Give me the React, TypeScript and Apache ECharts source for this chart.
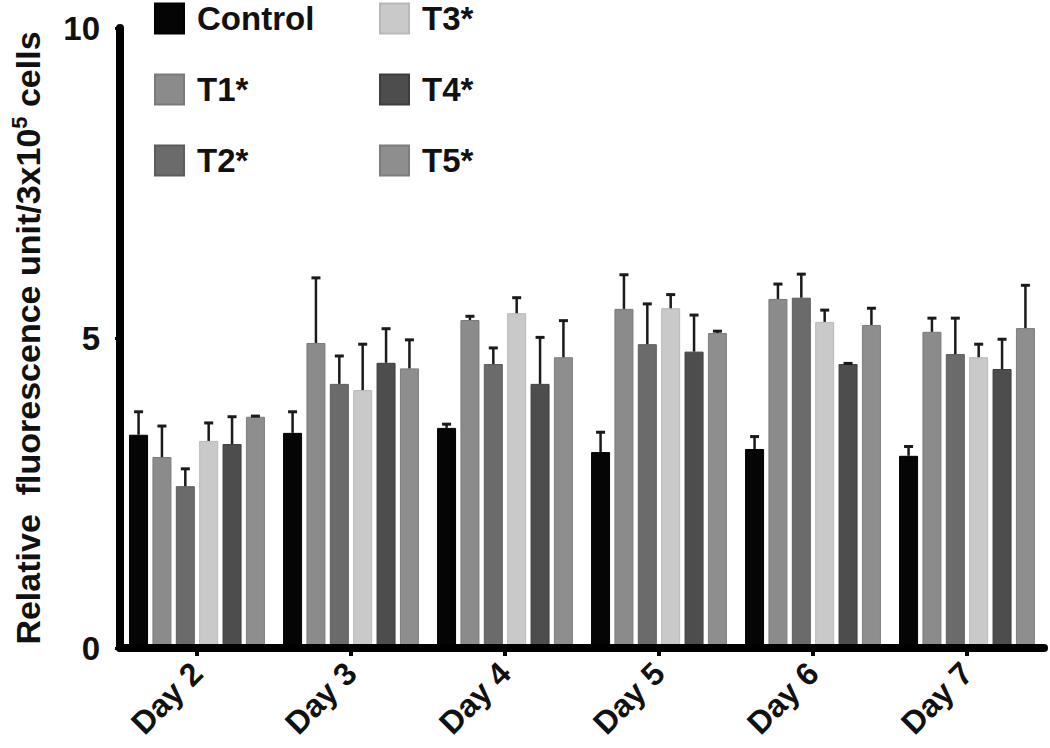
import React, { useEffect, useRef } from "react";
import * as echarts from "echarts";

const categories = ["Day 2", "Day 3", "Day 4", "Day 5", "Day 6", "Day 7"];
const seriesNames = ["Control", "T1*", "T2*", "T3*", "T4*", "T5*"];

const control = [3.44, 3.47, 3.55, 3.16, 3.21, 3.1];
const t1 = [3.08, 4.92, 5.29, 5.47, 5.63, 5.1];
const t2 = [2.61, 4.26, 4.58, 4.9, 5.65, 4.74];
const t3 = [3.34, 4.16, 5.4, 5.48, 5.26, 4.69];
const t4 = [3.29, 4.6, 4.26, 4.78, 4.58, 4.5];
const t5 = [3.73, 4.51, 4.69, 5.08, 5.21, 5.16];

const controlErr = [0.37, 0.34, 0.06, 0.32, 0.2, 0.15];
const t1Err = [0.5, 1.05, 0.06, 0.55, 0.24, 0.22];
const t2Err = [0.28, 0.45, 0.26, 0.65, 0.38, 0.58];
const t3Err = [0.29, 0.74, 0.25, 0.22, 0.19, 0.21];
const t4Err = [0.44, 0.55, 0.75, 0.59, 0.01, 0.48];
const t5Err = [0.01, 0.46, 0.59, 0.03, 0.27, 0.69];

const yTicks = [0, 5, 10];

const values = [control, t1, t2, t3, t4, t5];
const errors = [controlErr, t1Err, t2Err, t3Err, t4Err, t5Err];
const colors = ["#050505", "#8b8b8b", "#6b6b6b", "#c9c9c9", "#4d4d4d", "#8e8e8e"];
const borders = ["#000000", "#7a7a7a", "#5c5c5c", "#b8b8b8", "#3e3e3e", "#7d7d7d"];

const FONT = "'Liberation Sans', Arial, Helvetica, sans-serif";
const BAR_W = 19;
const BAR_GAP = 0.23;

export default function App() {
  const ref = useRef<HTMLDivElement>(null);

  useEffect(() => {
    if (!ref.current) return;
    const chart = echarts.init(ref.current, null, { renderer: "svg" });

    const barSeries = seriesNames.map((name, i) => ({
      name,
      type: "bar",
      data: values[i],
      barWidth: BAR_W,
      barGap: `${BAR_GAP * 100}%`,
      itemStyle: { color: colors[i], borderColor: borders[i], borderWidth: 1 },
      z: 2,
    }));

    const errData: number[][] = [];
    values.forEach((arr, s) => {
      arr.forEach((v, c) => {
        errData.push([c, v, v + errors[s][c], s]);
      });
    });

    const errorSeries = {
      type: "custom",
      name: "errors",
      data: errData,
      z: 3,
      renderItem: (params: any, api: any) => {
        const c = api.value(0);
        const v = api.value(1);
        const top = api.value(2);
        const s = api.value(3);
        const base = api.coord([c, v]);
        const hi = api.coord([c, top]);
        const pitch = BAR_W * (1 + BAR_GAP);
        const x = base[0] + (s - 2.5) * pitch;
        const capHalf = 4.5;
        return {
          type: "group",
          children: [
            {
              type: "line",
              shape: { x1: x, y1: base[1], x2: x, y2: hi[1] },
              style: { stroke: "#1a1a1a", lineWidth: 2.5 },
            },
            {
              type: "line",
              shape: { x1: x - capHalf, y1: hi[1], x2: x + capHalf, y2: hi[1] },
              style: { stroke: "#1a1a1a", lineWidth: 3 },
            },
          ],
        };
      },
    };

    const legendCommon = {
      orient: "vertical",
      top: 2,
      padding: 0,
      itemWidth: 29,
      itemHeight: 30,
      itemGap: 38,
      icon: "rect",
      selectedMode: false,
      textStyle: {
        fontFamily: FONT,
        fontWeight: "bold",
        fontSize: 33,
        lineHeight: 32,
        color: "#111",
        padding: [0, 0, 0, 8],
      },
    };

    chart.setOption({
      animation: false,
      backgroundColor: "#ffffff",
      grid: { left: 114, right: 6, top: 28, bottom: 100 },
      legend: [
        { ...legendCommon, left: 154, data: ["Control", "T1*", "T2*"] },
        { ...legendCommon, left: 379, data: ["T3*", "T4*", "T5*"] },
      ],
      xAxis: {
        type: "category",
        data: categories,
        axisLine: { show: true, lineStyle: { color: "#000", width: 8 } },
        axisTick: {
          show: true,
          alignWithLabel: true,
          length: 8,
          lineStyle: { color: "#000", width: 4 },
        },
        axisLabel: {
          rotate: 45,
          margin: 20,
          fontFamily: FONT,
          fontWeight: "bold",
          fontSize: 32,
          color: "#111",
        },
        z: 5,
      },
      yAxis: {
        type: "value",
        min: yTicks[0],
        max: yTicks[yTicks.length - 1],
        interval: 5,
        splitLine: { show: false },
        axisLine: { show: true, lineStyle: { color: "#000", width: 8 } },
        axisTick: { show: true, length: 5, lineStyle: { color: "#000", width: 3 } },
        axisLabel: {
          margin: 20,
          fontFamily: FONT,
          fontWeight: "bold",
          fontSize: 33,
          color: "#111",
        },
        name: "{a|Relative  fluorescence unit/3x10}{sup|5}{a| cells}",
        nameLocation: "middle",
        nameGap: 72,
        nameTextStyle: {
          rich: {
            a: { fontFamily: FONT, fontWeight: "bold", fontSize: 34, color: "#111" },
            sup: {
              fontFamily: FONT,
              fontWeight: "bold",
              fontSize: 22,
              color: "#111",
              padding: [0, 0, 18, 0],
            },
          },
        },
        z: 5,
      },
      series: [...barSeries, errorSeries],
    });

    return () => chart.dispose();
  }, []);

  return (
    <div
      ref={ref}
      style={{ position: "fixed", left: 0, top: 0, width: 1050, height: 748, background: "#fff" }}
    />
  );
}
